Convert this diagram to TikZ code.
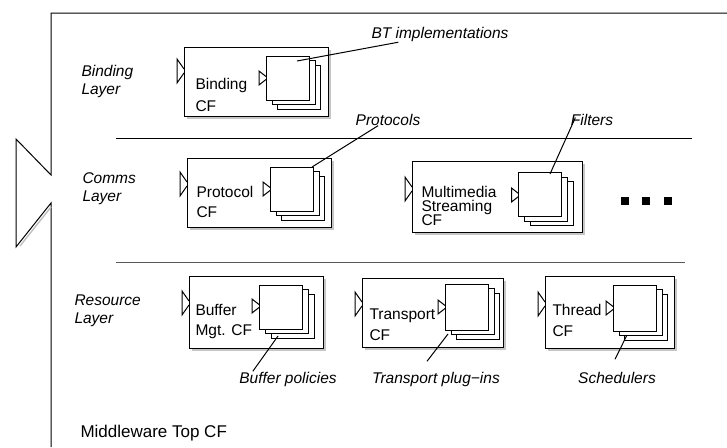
\documentclass[tikz,border=0pt]{standalone}
\usepackage{fontspec}
\setmainfont{Liberation Sans}
\usetikzlibrary{shadows,calc}
\begin{document}
\begin{tikzpicture}[x=1pt,y=-1pt,line width=1pt,
        cf/.style={rectangle,draw,fill=white,inner sep=0,
            drop shadow={shadow xshift=2.5pt,shadow yshift=-2.5pt,fill=gray!45,opacity=1}},
        plug/.style={rectangle,draw,fill=white,inner sep=0,minimum width=43,minimum height=44},
        txt/.style={inner sep=0,anchor=base west,font=\fontsize{15.5}{18}\selectfont},
        lyr/.style={inner sep=0,anchor=north west,align=left,font=\fontsize{15.5}{18}\selectfont\itshape},
        note/.style={inner sep=0,anchor=base,font=\fontsize{15.5}{18}\selectfont\itshape},
        sq/.style={rectangle,fill=black,inner sep=0,minimum size=8},
        otab/.pic={\draw (0,10) -- (-7,0) -- (-7,24) -- (0,14);},
        itab/.pic={\draw (0,5.5) -- (-7,0) -- (-7,14) -- (0,8.5);}]
        \useasboundingbox (0,0) rectangle (727,447);

        % outer framework and its interface
        \draw (727,13) -- (51,13) -- (51,175) -- (16,139) -- (16,247) -- (51,203) -- (51,447);
        \draw [gray!50,line width=1.4pt] (20,246) -- (51,207);
        \draw (116,138) -- (692,138);
        \draw [gray!70!black] (116,262) -- (685,262);

        % layer names
        \node (lbind) [lyr] at (81,64.5) {Binding\\Layer};
        \node (lcomm) [lyr] at (82,172.5) {Comms\\Layer};
        \node (lres) [lyr] at (74,294.5) {Resource\\Layer};
        \node (top) [inner sep=0,anchor=base west,font=\fontsize{17}{20}\selectfont] at (80,437) {Middleware Top CF};

        % binding layer
        \node (bind) [cf,minimum width=144,minimum height=69] at (256,81.5) {};
        \pic at (184,59) {otab};
        \node (bindp3) [plug] at (299,87) {};
        \node (bindp2) [plug] at (293.5,82.5) {};
        \node (bindp) [plug] at (287.5,78) {};
        \pic at (266,71) {itab};
        \node (bindtxt) [txt] at (195,89.2) {Binding};
        \node (bindcf) [txt] at (195,111.5) {CF};

        % comms layer
        \node (prot) [cf,minimum width=144,minimum height=69] at (259,192.5) {};
        \pic at (187,172) {otab};
        \node (protp3) [plug] at (303,198) {};
        \node (protp2) [plug] at (297.5,193.5) {};
        \node (protp) [plug] at (291.5,189) {};
        \pic at (270,182) {itab};
        \node (prottxt) [txt] at (196,197.2) {Protocol};
        \node (protcf) [txt] at (196,217.2) {CF};

        \node (mm) [cf,minimum width=170,minimum height=71] at (497,196.5) {};
        \pic at (412,177) {otab};
        \node (mmp3) [plug] at (551.5,203.5) {};
        \node (mmp2) [plug] at (546,199) {};
        \node (mmp) [plug] at (540,194.5) {};
        \pic at (518.5,188) {itab};
        \node (mmtxt) [txt] at (421,197.5) {Multimedia};
        \node (mmtxt2) [txt] at (421,211.5) {Streaming};
        \node (mmcf) [txt] at (421,225.5) {CF};

        \foreach \x [count=\i] in {624.5,645.5,667.5}
            \node (dot\i) [sq] at (\x,201) {};

        % resource layer
        \node (buf) [cf,minimum width=134,minimum height=72] at (256,312) {};
        \pic at (189,291) {otab};
        \node (bufp3) [plug] at (292.5,316) {};
        \node (bufp2) [plug] at (287,311.5) {};
        \node (bufp) [plug] at (281,307) {};
        \pic at (259,299) {itab};
        \node (buftxt) [txt] at (195,315.5) {Buffer};
        \node (bufcf) [txt] at (195,335.5) {Mgt. CF};

        \node (tran) [cf,minimum width=141,minimum height=69] at (432.5,312.5) {};
        \pic at (362,292) {otab};
        \node (tranp3) [plug,minimum height=46] at (478,316) {};
        \node (tranp2) [plug,minimum height=46] at (472.5,311.5) {};
        \node (tranp) [plug,minimum height=46] at (466.5,307) {};
        \pic at (445,300) {itab};
        \node (trantxt) [txt] at (369,319.5) {Transport};
        \node (trancf) [txt] at (369,340.5) {CF};

        \node (thr) [cf,minimum width=129,minimum height=72] at (609.5,312) {};
        \pic at (545,292) {otab};
        \node (thrp3) [plug,minimum height=46] at (646,317) {};
        \node (thrp2) [plug,minimum height=46] at (640.5,312.5) {};
        \node (thrp) [plug,minimum height=46] at (634.5,308) {};
        \pic at (613,301) {itab};
        \node (thrtxt) [txt] at (552,315.5) {Thread};
        \node (thrcf) [txt] at (552,336.5) {CF};

        % plug-in labels
        \node (btlbl) [note] at (440,38.5) {BT implementations};
        \node (protlbl) [note] at (388,125) {Protocols};
        \node (filtlbl) [note] at (592,125) {Filters};
        \node (buflbl) [note] at (288,383) {Buffer policies};
        \node (tranlbl) [note] at (436,383) {Transport plug−ins};
        \node (thrlbl) [note] at (617,383) {Schedulers};

        \coordinate (bindtip) at (297,61);
        \coordinate (prottip) at (312,167);
        \coordinate (mmtip) at (550,174);
        \coordinate (buftip) at (278,336);
        \coordinate (trantip) at (448,334);
        \coordinate (thrtip) at (627,335);

        \draw (bindtip) -- (btlbl);
        \draw (prottip) -- (protlbl);
        \draw (mmtip) -- ($(filtlbl.west)+(5,-2)$);
        \draw (buftip) -- ($(buflbl.north west)+(14,0)$);
        \draw (trantip) -- ($(tranlbl.north)+(-9,-10)$);
        \draw (thrtip) -- ($(thrlbl.north)+(-2,-12)$);

    \end{tikzpicture}
\end{document}
